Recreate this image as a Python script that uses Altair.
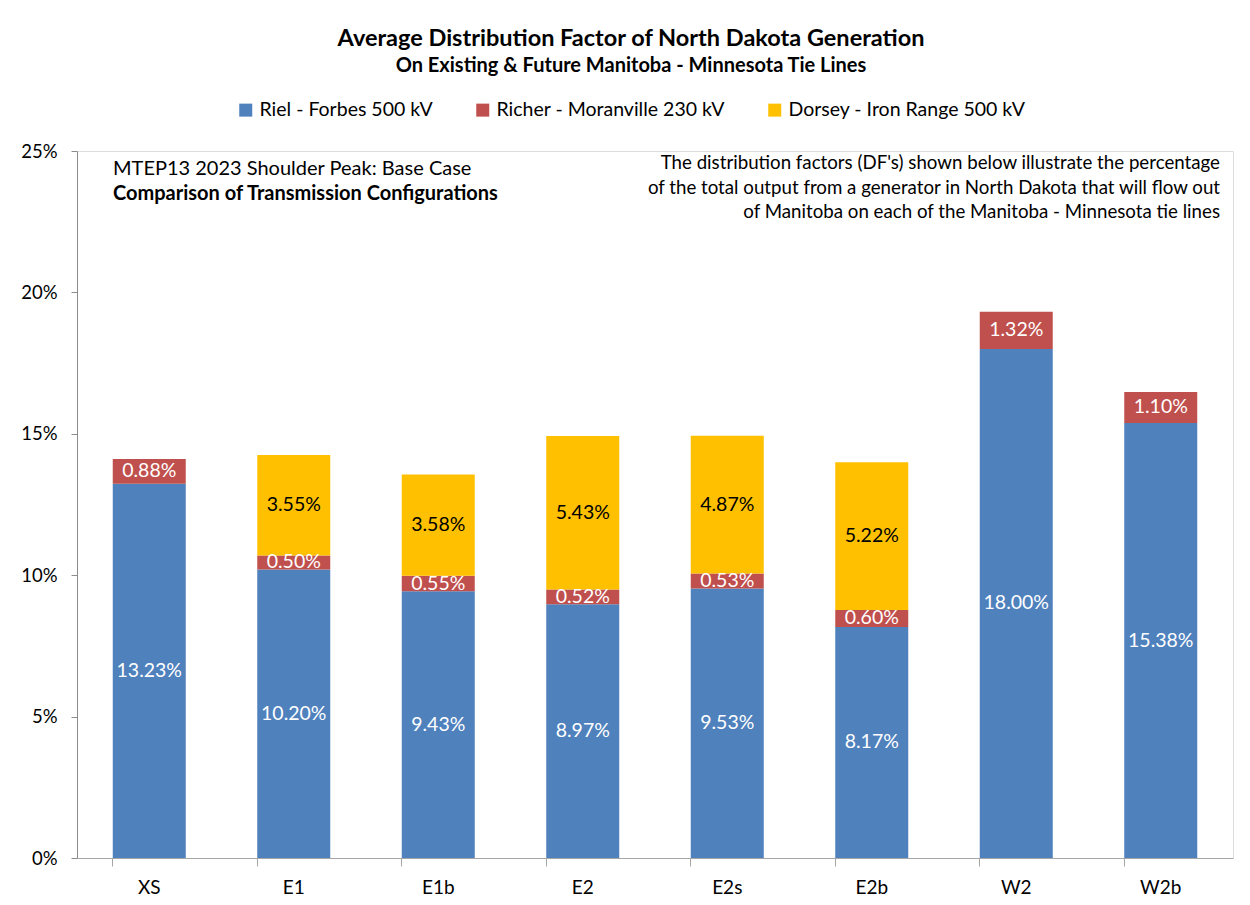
import altair as alt
import pandas as pd

configs = ["XS", "E1", "E1b", "E2", "E2s", "E2b", "W2", "W2b"]
series = ["Riel - Forbes 500 kV", "Richer - Moranville 230 kV", "Dorsey - Iron Range 500 kV"]
riel = [13.23, 10.20, 9.43, 8.97, 9.53, 8.17, 18.00, 15.38]
richer = [0.88, 0.50, 0.55, 0.52, 0.53, 0.60, 1.32, 1.10]
dorsey = [None, 3.55, 3.58, 5.43, 4.87, 5.22, None, None]
colors = ["#4F81BD", "#C0504D", "#FFC000"]
label_colors = ["white", "white", "black"]
y_ticks = [0, 5, 10, 15, 20, 25]

title_text = "Average Distribution Factor of North Dakota Generation"
subtitle_text = "On Existing & Future Manitoba - Minnesota Tie Lines"
left_note = ["MTEP13 2023 Shoulder Peak: Base Case", "Comparison of Transmission Configurations"]
right_note = [
    "The distribution factors (DF's) shown below illustrate the percentage",
    "of the total output from a generator in North Dakota that will flow out",
    "of Manitoba on each of the Manitoba - Minnesota tie lines",
]

FONT = "Lato"

rows = []
for si, (name, vals) in enumerate(zip(series, [riel, richer, dorsey])):
    for c, v in zip(configs, vals):
        if v is None:
            continue
        rows.append({"config": c, "series": name, "value": v, "order": si,
                     "lab": f"{v:.2f}%", "labcol": label_colors[si]})
df = pd.DataFrame(rows)

base = alt.Chart(df)

bars = base.mark_bar(size=73).encode(
    x=alt.X("config:N", sort=configs, scale=alt.Scale(paddingInner=0.495, paddingOuter=0.2475),
            axis=alt.Axis(title=None, labelAngle=0, labelFontWeight="normal", labelFontSize=19,
                          labelFont=FONT, labelColor="black", labelPadding=12, tickSize=8,
                          tickColor="#a6a6a6", domainColor="#a6a6a6", bandPosition=0)),
    y=alt.Y("value:Q", stack="zero", scale=alt.Scale(domain=[0, 25], nice=False),
            axis=alt.Axis(title=None, values=y_ticks, labelExpr="datum.value + '%'",
                          labelFontSize=18.5, labelFont=FONT, labelColor="black", labelPadding=14,
                          tickSize=6, tickColor="#8c8c8c", domainColor="#8c8c8c", grid=False)),
    color=alt.Color("series:N", sort=series,
                    scale=alt.Scale(domain=series, range=colors),
                    legend=alt.Legend(title=None, orient="none", direction="horizontal",
                                      legendX=159, legendY=-51, symbolType="square",
                                      symbolSize=169, symbolStrokeWidth=0, labelFontSize=19.5,
                                      labelFont=FONT, labelColor="black", columnPadding=40,
                                      labelOffset=4, labelLimit=500)),
    order=alt.Order("order:Q", sort="ascending"),
)

labels = base.transform_stack(
    stack="value", groupby=["config"], as_=["v0", "v1"],
    sort=[alt.SortField("order", order="ascending")]
).transform_calculate(mid="(datum.v0 + datum.v1) / 2").mark_text(
    fontSize=19.5, font=FONT, baseline="middle", align="center"
).encode(
    x=alt.X("config:N", sort=configs),
    y=alt.Y("mid:Q"),
    text="lab:N",
    color=alt.Color("labcol:N", scale=None),
)

ann = []
for i, t in enumerate(left_note):
    ann.append(alt.Chart(pd.DataFrame({"t": [t]})).mark_text(
        align="left", baseline="middle", fontSize=20, font=FONT, color="black",
        fontWeight="bold" if i == 1 else "normal"
    ).encode(x=alt.value(36), y=alt.value(18 + 25 * i), text="t:N"))
for i, t in enumerate(right_note):
    ann.append(alt.Chart(pd.DataFrame({"t": [t]})).mark_text(
        align="right", baseline="middle", fontSize=18.7, font=FONT, color="black"
    ).encode(x=alt.value(1143), y=alt.value(12 + 24.5 * i), text="t:N"))

chart = alt.layer(bars, labels, *ann).properties(
    width=1156, height=707,
    autosize=alt.AutoSizeParams(type="none"),
    padding={"left": 69, "top": 143, "right": 9, "bottom": 39},
    title=alt.TitleParams(text=title_text, subtitle=subtitle_text, anchor="middle",
                          font=FONT, fontSize=23.5, fontWeight="bold", color="black",
                          subtitleFont=FONT, subtitleFontSize=20, subtitleFontWeight="bold",
                          subtitleColor="black", subtitlePadding=6, offset=24, dx=-24),
).configure_view(stroke="#8c8c8c", strokeWidth=1.3).configure(background="white")

chart.save("out.html", embed_options={"renderer": "svg", "actions": False})
